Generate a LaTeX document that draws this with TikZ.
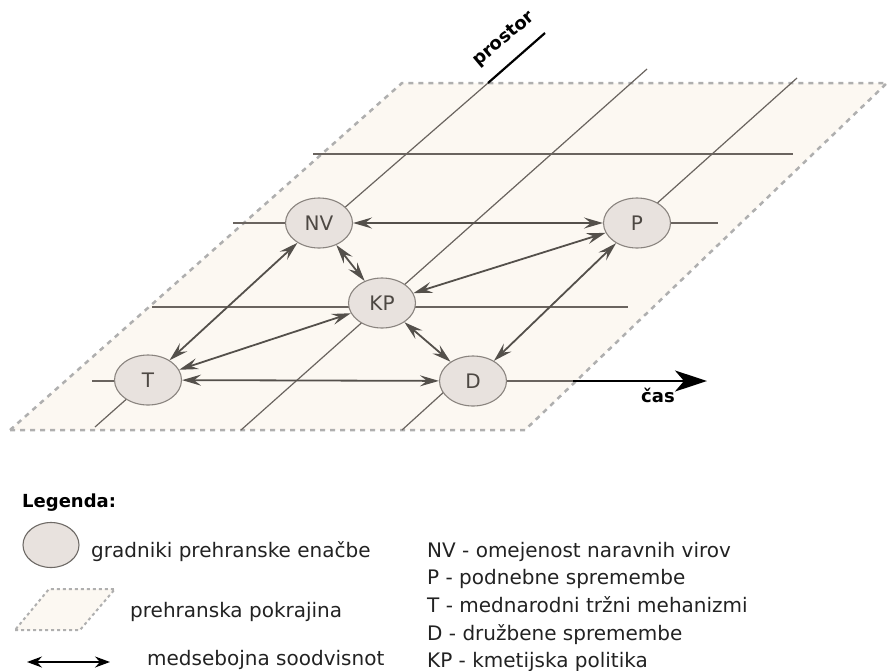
\documentclass[tikz,border=0pt]{standalone}
\usepackage{fontspec}
\setmainfont{DejaVu Sans}
\usetikzlibrary{arrows.meta,shapes.geometric}
\definecolor{plane}{HTML}{FCF8F2}
\definecolor{planeedge}{HTML}{AFAFAF}
\definecolor{gridc}{HTML}{6A645F}
\definecolor{nodefill}{HTML}{E8E2DE}
\definecolor{nodeedge}{HTML}{8A847F}
\definecolor{nodetext}{HTML}{4D4843}
\definecolor{arrc}{HTML}{54504B}
\definecolor{legtext}{HTML}{222222}
\tikzset{
  gridline/.style={draw=gridc, line width=1.2pt},
  elem/.style={ellipse, draw=nodeedge, fill=nodefill, line width=1.1pt,
    minimum width=67pt, minimum height=50pt, inner sep=0pt,
    text=nodetext, font=\fontsize{20}{24}\selectfont},
  rel/.style={draw=arrc, line width=1.8pt,
    {Stealth[length=19pt,width=11pt,inset=7pt]}-{Stealth[length=19pt,width=11pt,inset=7pt]}},
  planestyle/.style={fill=plane, draw=planeedge, line width=2.5pt, dash pattern=on 5pt off 5pt},
  axisline/.style={draw=black, line width=2.2pt},
  axislabel/.style={font=\bfseries\fontsize{18}{22}\selectfont, text=black, inner sep=0pt},
  legtxt/.style={font=\fontsize{20}{24}\selectfont, text=legtext, anchor=base west, inner sep=0pt},
}
\begin{document}
\begin{tikzpicture}[x=1pt,y=-1pt]
\useasboundingbox (0,0) rectangle (887,670);

% food region plane
\draw[planestyle] (10,430) -- (525,430) -- (887,83) -- (402,83) -- cycle;

% grid coordinates
\coordinate (l1a) at (95,427);
\coordinate (l1t) at (148,380);
\coordinate (l1b) at (327,223);
\coordinate (l1top) at (488,83);
\coordinate (l1end) at (545,33);
\coordinate (l2a) at (241,430);
\coordinate (l2b) at (647,69);
\coordinate (l3a) at (402,430);
\coordinate (l3d) at (456,381);
\coordinate (l3p) at (635,223);
\coordinate (l3b) at (797,78);
\coordinate (h1a) at (313,154);
\coordinate (h1b) at (793,154);
\coordinate (h2a) at (233,223);
\coordinate (h2n) at (319,223);
\coordinate (h2p) at (637,223);
\coordinate (h2b) at (718,223);
\coordinate (h3a) at (152,307);
\coordinate (h3b) at (628,307);
\coordinate (h4a) at (92,381);
\coordinate (h4t) at (148,381);
\coordinate (h4d) at (473,381);
\coordinate (h4b) at (573,381);
\coordinate (casend) at (707,381);

% grid lines
\draw[gridline] (l1a) -- (l1t);
\draw[gridline] (l1b) -- (l1top);
\draw[gridline] (l2a) -- (l2b);
\draw[gridline] (l3a) -- (l3d);
\draw[gridline] (l3p) -- (l3b);
\draw[gridline] (h1a) -- (h1b);
\draw[gridline] (h2a) -- (h2n);
\draw[gridline] (h2p) -- (h2b);
\draw[gridline] (h3a) -- (h3b);
\draw[gridline] (h4a) -- (h4t);
\draw[gridline] (h4d) -- (h4b);

% axes
\draw[axisline] (l1top) -- (l1end);
\draw[axisline, -{Stealth[length=32pt,width=21pt,inset=9pt]}] (h4b) -- (casend);
\node[axislabel, rotate=40] (prostor) at (504,39) {prostor};
\node[axislabel, anchor=base west] (cas) at (641,402) {čas};

% elements
\node[elem] (NV) at (319,223) {NV};
\node[elem] (KP) at (382,303) {KP};
\node[elem] (T) at (148,380) {T};
\node[elem] (P) at (637,223) {P};
\node[elem] (D) at (473,381) {D};

% interdependencies
\draw[rel] (NV) -- (P);
\draw[rel] (T) -- (NV);
\draw[rel] (NV) -- (KP);
\draw[rel] (KP) -- (P);
\draw[rel] (T) -- (KP);
\draw[rel] (KP) -- (D);
\draw[rel] (T) -- (D);
\draw[rel] (D) -- (P);

% legend
\node[anchor=base west, inner sep=0pt, font=\bfseries\fontsize{18}{22}\selectfont] (legtitle) at (22,507) {Legenda:};
\node[ellipse, draw=nodeedge!80!black, fill=nodefill, line width=1.1pt,
  minimum width=56pt, minimum height=45pt, inner sep=0pt] (legell) at (51,545) {};
\node[legtxt] (legt1) at (91,557) {gradniki prehranske enačbe};
\draw[planestyle, line width=2pt, dash pattern=on 3pt off 3pt] (15,630) -- (80,630) -- (115,589) -- (49,589) -- cycle;
\node[legtxt] (legt2) at (130,617) {prehranska pokrajina};
\coordinate (la) at (27,662);
\coordinate (lb) at (110,662);
\draw[black, line width=1.6pt, {Stealth[length=15pt,width=11pt,inset=5pt]}-{Stealth[length=15pt,width=11pt,inset=5pt]}] (la) -- (lb);
\node[legtxt] (legt3) at (147,665) {medsebojna soodvisnot};

\node[legtxt] (k1) at (427,557) {NV - omejenost naravnih virov};
\node[legtxt] (k2) at (427,584) {P - podnebne spremembe};
\node[legtxt] (k3) at (427,612) {T - mednarodni tržni mehanizmi};
\node[legtxt] (k4) at (427,640) {D - družbene spremembe};
\node[legtxt] (k5) at (427,667) {KP - kmetijska politika};
\end{tikzpicture}
\end{document}
